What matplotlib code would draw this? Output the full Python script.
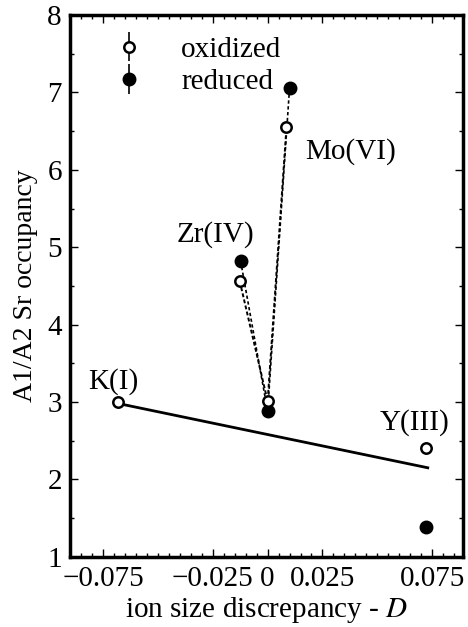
import matplotlib
matplotlib.use("Agg")
import matplotlib.pyplot as plt
from matplotlib.ticker import MultipleLocator, FixedLocator, FixedFormatter
import numpy as np

plt.rcParams['font.family'] = ['Liberation Serif', 'DejaVu Serif']
plt.rcParams['mathtext.fontset'] = 'stix'

# ion size discrepancy D and A1/A2 Sr occupancy, one entry per dopant
dopants = ["K(I)", "Zr(IV)", "undoped", "Mo(VI)", "Y(III)"]
D_ox = [-0.068, -0.0127, 0.0, 0.0086, 0.072]
occ_ox = [3.0, 4.56, 3.01, 6.55, 2.40]
D_red = [-0.0123, 0.0, 0.0100, 0.072]
occ_red = [4.82, 2.88, 7.06, 1.38]

# linear trend through the aliovalent dopants
fit_D = [-0.068, 0.073]
fit_occ = [2.98, 2.15]

# labels: text, x, y
labels = [("K(I)", -0.0705, 3.27), ("Zr(IV)", -0.0236, 5.17),
          ("Mo(VI)", 0.038, 6.24), ("Y(III)", 0.067, 2.73)]

xticks = [-0.075, -0.025, 0, 0.025, 0.075]
xticklabels = ["\u22120.075", "\u22120.025", "0", "0.025", "0.075"]

fig = plt.figure(figsize=(4.68, 6.27), dpi=100)
ax = fig.add_axes([0.150, 0.112, 0.839, 0.864])

# trend line
ax.plot(fit_D, fit_occ, color='black', lw=2.0, zorder=2)

# dashed connections for Zr / undoped / Mo
ax.plot(D_ox[1:4], occ_ox[1:4], color='black', lw=1.4, ls=(0, (2, 1.2)), zorder=2)
ax.plot(D_red[0:3], occ_red[0:3], color='black', lw=1.2, ls=(0, (2, 1.5)), zorder=2)

ax.plot(D_red, occ_red, 'o', color='black', ms=9, ls='none', zorder=3)
ax.plot(D_ox, occ_ox, 'o', mfc='white', mec='black', mew=1.8, ms=7.5, ls='none', zorder=4)

for txt, x, y in labels:
    ax.text(x, y, txt, fontsize=21, ha='center', va='center')

# legend handles with short vertical bars through the markers
h_ox = ax.errorbar([np.nan], [np.nan], yerr=[1], fmt='o', mfc='white', mec='black',
                   mew=1.8, ms=7.5, ecolor='black', elinewidth=1.2, capsize=0)
h_red = ax.errorbar([np.nan], [np.nan], yerr=[1], fmt='o', color='black',
                    ms=9, ecolor='black', elinewidth=1.2, capsize=0)
leg = ax.legend([h_ox, h_red], ["oxidized", "reduced"], loc='upper left',
                frameon=False, fontsize=21, handlelength=1.0, handletextpad=1.3,
                labelspacing=0.2, borderaxespad=0.3, bbox_to_anchor=(0.06, 0.998))

ax.set_xlim(-0.09, 0.089)
ax.set_ylim(1, 8)
ax.xaxis.set_major_locator(FixedLocator(xticks))
ax.xaxis.set_major_formatter(FixedFormatter(xticklabels))
ax.xaxis.set_minor_locator(MultipleLocator(0.005))
ax.yaxis.set_major_locator(MultipleLocator(1))
ax.yaxis.set_minor_locator(MultipleLocator(0.5))
ax.tick_params(which='both', direction='in', top=True, right=True, width=1.0,
               labelsize=21, pad=7)
ax.tick_params(axis='y', which='both', pad=6)
ax.tick_params(which='major', length=6)
ax.tick_params(which='minor', length=3)
for s in ax.spines.values():
    s.set_linewidth(2.5)

ax.set_xlabel("ion size discrepancy - $\\mathit{D}$", fontsize=21, labelpad=2)
ax.set_ylabel("A1/A2 Sr occupancy", fontsize=20, labelpad=7)

fig.savefig("out.png", dpi=100)
